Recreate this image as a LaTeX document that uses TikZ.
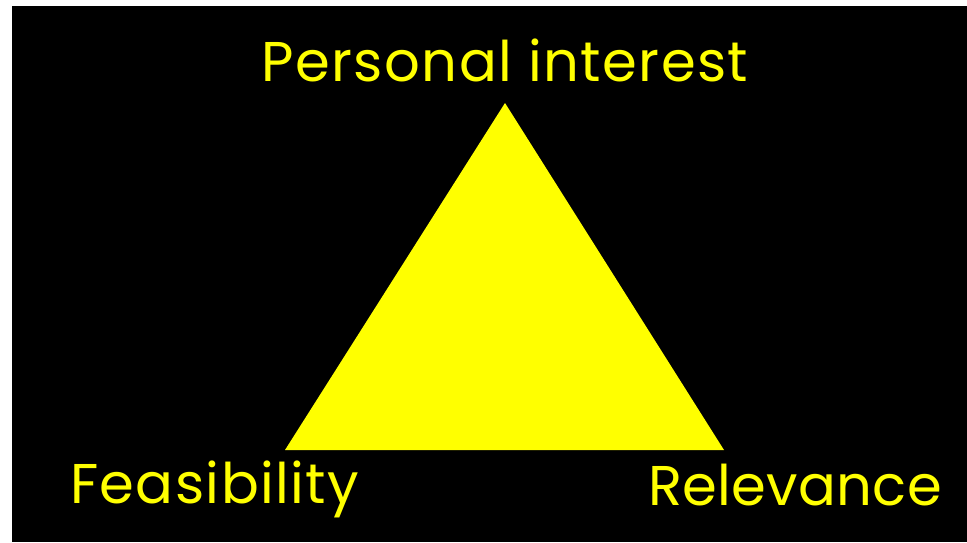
\documentclass[tikz,border=0pt]{standalone}
\usepackage{fontspec}
\setmainfont{Poppins}[LetterSpace=2.5]
\usepackage{tikz}
\definecolor{labelyellow}{RGB}{255,255,0}

\begin{document}
\begin{tikzpicture}[x=1pt,y=-1pt]
\useasboundingbox (0,0) rectangle (967,542);
\fill[black] (12,6) rectangle (967,542);

\begin{scope}[every node/.style={text=labelyellow,inner sep=0pt,font=\fontsize{56}{64}\selectfont}]
    \node[anchor=base] (top) at (505,81) {Personal interest};
    \node[anchor=base west] (left) at (70,503) {Feasibility};
    \node[anchor=base east] (right) at (942,505) {\addfontfeatures{LetterSpace=0.5}Relevance};
\end{scope}

\coordinate (apex) at (505,103);
\coordinate (bl) at (285,450);
\coordinate (br) at (724,450);
\fill[labelyellow] (apex) -- (br) -- (bl) -- cycle;
\end{tikzpicture}
\end{document}
